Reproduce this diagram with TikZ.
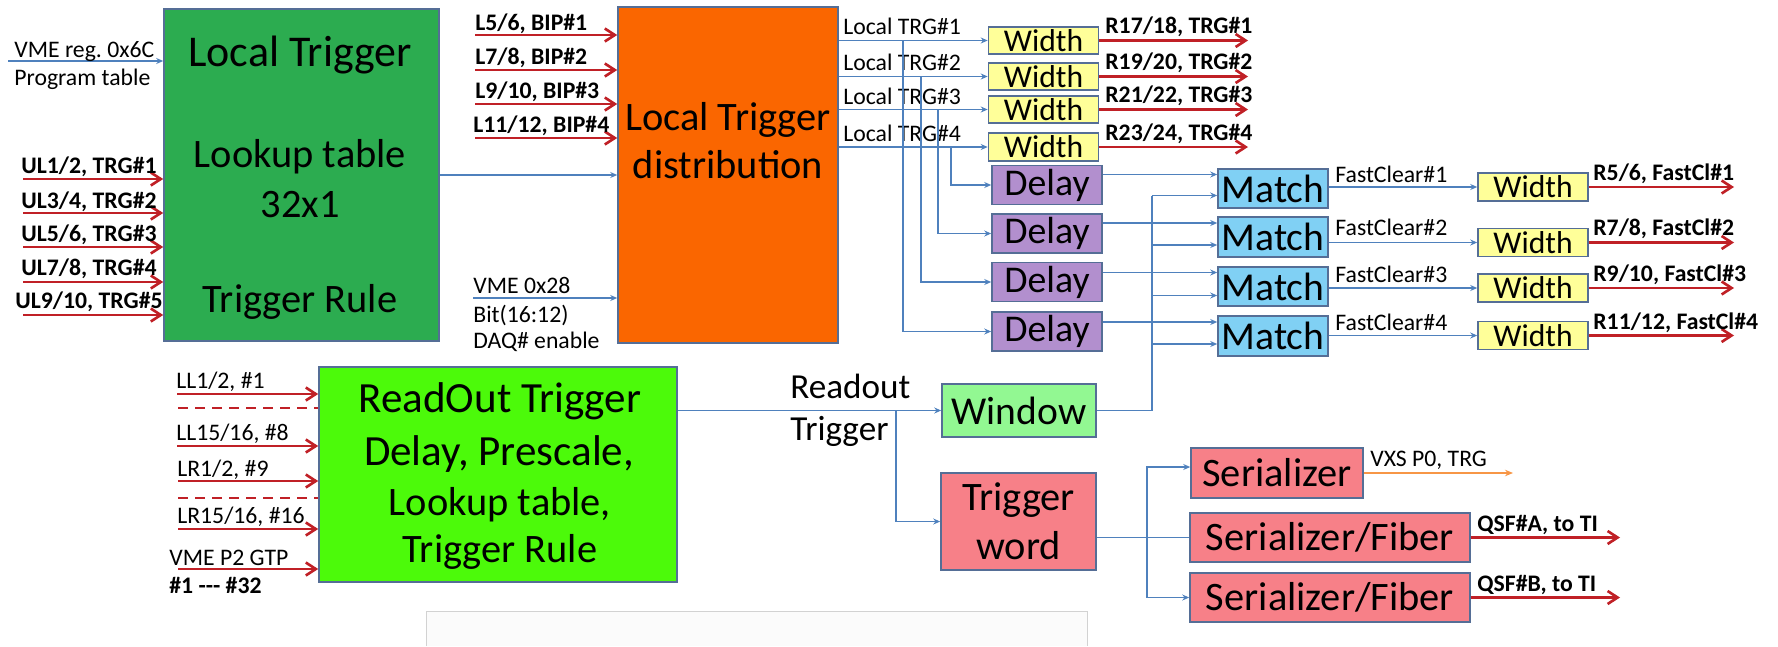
\documentclass[tikz,border=0pt]{standalone}
\usepackage{fontspec}
\setmainfont{Carlito}
\usetikzlibrary{arrows.meta, positioning, calc}
\definecolor{ltgreen}{RGB}{44,172,80}
\definecolor{ltorange}{RGB}{250,102,0}
\definecolor{rogreen}{RGB}{76,250,10}
\definecolor{wyellow}{RGB}{255,255,153}
\definecolor{dpurple}{RGB}{178,143,206}
\definecolor{mblue}{RGB}{128,208,244}
\definecolor{wgreen}{RGB}{146,248,146}
\definecolor{spink}{RGB}{247,128,136}
\definecolor{boxedge}{RGB}{85,110,150}
\definecolor{lineblue}{RGB}{79,129,189}
\definecolor{arrred}{RGB}{192,32,38}
\definecolor{arrorange}{RGB}{247,150,70}
\tikzset{box/.style={draw=boxedge, line width=0.9pt, inner sep=0pt}}
\tikzset{lbl/.style={font=\fontsize{13.5}{16}\selectfont, inner sep=0pt}}
\tikzset{blbl/.style={font=\fontsize{13.5}{16}\selectfont\bfseries, inner sep=0pt}}
\tikzset{bl/.style={draw=lineblue, line width=0.6pt}}
\tikzset{bla/.style={bl, -{Stealth[length=1.4mm, width=1.2mm]}}}
\tikzset{rdarr/.style={draw=arrred, line width=1.5pt, -{Straight Barb[length=2mm, width=2.6mm]}}}
\tikzset{rddash/.style={draw=arrred, line width=1.5pt, dash pattern=on 2mm off 1.4mm}}
\tikzset{orarr/.style={draw=arrorange, line width=0.8pt, -{Stealth[length=1.6mm, width=1.3mm]}}}
\tikzset{wbox/.style={box, fill=wyellow, minimum width=2.2cm, minimum height=0.55cm, font=\fontsize{18}{20}\selectfont}}
\tikzset{dbox/.style={box, fill=dpurple, minimum width=2.2cm, minimum height=0.78cm, font=\fontsize{21.5}{24}\selectfont}}
\tikzset{mbox/.style={box, fill=mblue, minimum width=2.2cm, minimum height=0.79cm, font=\fontsize{22.5}{25}\selectfont}}
\tikzset{sbox/.style={box, fill=spink, font=\fontsize{23}{27.9}\selectfont, align=center}}
\begin{document}
\begin{tikzpicture}[x=0.2mm, y=-0.2mm]
    \useasboundingbox (0,0) rectangle (1778,646);

    % Local Trigger block
    \node(lt)[box, fill=ltgreen, minimum width=5.5cm, minimum height=6.64cm] at (301.5,175){};
    \node(ltt1)[font=\fontsize{25}{30}\selectfont, anchor=base] at (300,66){Local Trigger};
    \node(ltt2)[font=\fontsize{23}{28}\selectfont, anchor=base] at (300,167){Lookup table};
    \node(ltt3)[font=\fontsize{23}{28}\selectfont, anchor=base] at (300,217){32x1};
    \node(ltt4)[font=\fontsize{23}{28}\selectfont, anchor=base] at (300,312){Trigger Rule};

    \coordinate(vmer) at (8,61);
    \draw[bla] (vmer) -- (vmer -| lt.west);
    \node(vmert)[lbl, anchor=base west] at (14,57){VME reg.\ 0x6C};
    \node(progt)[lbl, anchor=base west] at (14,85){Program table};

    % UL inputs
    \coordinate(ul1) at (23,179);
    \coordinate(ul2) at (23,213);
    \coordinate(ul3) at (23,247);
    \coordinate(ul4) at (23,282);
    \coordinate(ul5) at (23,315);
    \draw[rdarr] (ul1) -- (ul1 -| lt.west);
    \draw[rdarr] (ul2) -- (ul2 -| lt.west);
    \draw[rdarr] (ul3) -- (ul3 -| lt.west);
    \draw[rdarr] (ul4) -- (ul4 -| lt.west);
    \draw[rdarr] (ul5) -- (ul5 -| lt.west);
    \node(ul1t)[blbl, anchor=base] at (89,173){UL1/2, TRG\#1};
    \node(ul2t)[blbl, anchor=base] at (89,208){UL3/4, TRG\#2};
    \node(ul3t)[blbl, anchor=base] at (89,241){UL5/6, TRG\#3};
    \node(ul4t)[blbl, anchor=base] at (89,275){UL7/8, TRG\#4};
    \node(ul5t)[blbl, anchor=base] at (89,308){UL9/10, TRG\#5};

    % Local Trigger distribution
    \node(ltd)[box, fill=ltorange, minimum width=4.4cm, minimum height=6.72cm] at (728,175){};
    \node(ltdt1)[font=\fontsize{23}{28}\selectfont, anchor=base] at (728,130){Local Trigger};
    \node(ltdt2)[font=\fontsize{23}{28}\selectfont, anchor=base] at (728,178){distribution};
    \draw[bla] (lt) -- (ltd);

    % BIP inputs
    \coordinate(bip1) at (475,35);
    \coordinate(bip2) at (475,70);
    \coordinate(bip3) at (475,104);
    \coordinate(bip4) at (475,138);
    \draw[rdarr] (bip1) -- (bip1 -| ltd.west);
    \draw[rdarr] (bip2) -- (bip2 -| ltd.west);
    \draw[rdarr] (bip3) -- (bip3 -| ltd.west);
    \draw[rdarr] (bip4) -- (bip4 -| ltd.west);
    \node(bip1t)[blbl, anchor=base west] at (475,30){L5/6, BIP\#1};
    \node(bip2t)[blbl, anchor=base west] at (475,64){L7/8, BIP\#2};
    \node(bip3t)[blbl, anchor=base west] at (475,98){L9/10, BIP\#3};
    \node(bip4t)[blbl, anchor=base west] at (473,132){L11/12, BIP\#4};

    \coordinate(vme28) at (473,298);
    \draw[bla] (vme28) -- (vme28 -| ltd.west);
    \node(vme28t)[lbl, anchor=base west] at (473,293){VME 0x28};
    \node(bitt)[lbl, anchor=base west] at (473,322){Bit(16:12)};
    \node(daqt)[lbl, anchor=base west] at (473,348){DAQ\# enable};

    % Width boxes
    \node(wl1)[wbox] at (1043.5,40.5){Width};
    \node(wl2)[wbox] at (1043.5,76.5){Width};
    \node(wl3)[wbox] at (1043.5,109.5){Width};
    \node(wl4)[wbox] at (1043.5,147){Width};
    \draw[bla] (ltd.east |- wl1) -- (wl1);
    \draw[bla] (ltd.east |- wl2) -- (wl2);
    \draw[bla] (ltd.east |- wl3) -- (wl3);
    \draw[bla] (ltd.east |- wl4) -- (wl4);
    \node(trg1t)[lbl, anchor=base west] at (843,35){Local TRG\#1};
    \node(trg2t)[lbl, anchor=base west] at (843,70){Local TRG\#2};
    \node(trg3t)[lbl, anchor=base west] at (843,104){Local TRG\#3};
    \node(trg4t)[lbl, anchor=base west] at (843,141){Local TRG\#4};

    \coordinate(rend) at (1248,0);
    \draw[rdarr] (wl1) -- (wl1 -| rend);
    \draw[rdarr] (wl2) -- (wl2 -| rend);
    \draw[rdarr] (wl3) -- (wl3 -| rend);
    \draw[rdarr] (wl4) -- (wl4 -| rend);
    \node(r1t)[blbl, anchor=base west] at (1105,33.5){R17/18, TRG\#1};
    \node(r2t)[blbl, anchor=base west] at (1105,69.5){R19/20, TRG\#2};
    \node(r3t)[blbl, anchor=base west] at (1105,102.5){R21/22, TRG\#3};
    \node(r4t)[blbl, anchor=base west] at (1105,140){R23/24, TRG\#4};

    % Delay boxes
    \node(dl1)[dbox] at (1047,185){Delay};
    \node(dl2)[dbox] at (1047,233.5){Delay};
    \node(dl3)[dbox] at (1047,282){Delay};
    \node(dl4)[dbox] at (1047,331.5){Delay};
    \coordinate(v1) at (903,0);
    \coordinate(v2) at (921,0);
    \coordinate(v3) at (938,0);
    \coordinate(v4) at (951,0);
    \draw[bla] (v1 |- wl1) |- (dl4);
    \draw[bla] (v2 |- wl2) |- (dl3);
    \draw[bla] (v3 |- wl3) |- (dl2);
    \draw[bla] (v4 |- wl4) |- (dl1);

    % Match boxes
    \node(mt1)[mbox] at (1273,188.5){Match};
    \node(mt2)[mbox] at (1273,237){Match};
    \node(mt3)[mbox] at (1273,286.5){Match};
    \node(mt4)[mbox] at (1273,336){Match};
    \coordinate(m1a) at ([yshift=2.8mm]mt1.west);
    \coordinate(m2a) at ([yshift=2.8mm]mt2.west);
    \coordinate(m3a) at ([yshift=2.8mm]mt3.west);
    \coordinate(m4a) at ([yshift=2.8mm]mt4.west);
    \coordinate(m1b) at ([yshift=-1.4mm]mt1.west);
    \coordinate(m2b) at ([yshift=-1.6mm]mt2.west);
    \coordinate(m3b) at ([yshift=-1.8mm]mt3.west);
    \coordinate(m4b) at ([yshift=-1.6mm]mt4.west);
    \draw[bla] (dl1.east |- m1a) -- (m1a);
    \draw[bla] (dl2.east |- m2a) -- (m2a);
    \draw[bla] (dl3.east |- m3a) -- (m3a);
    \draw[bla] (dl4.east |- m4a) -- (m4a);

    % Window
    \node(win)[box, fill=wgreen, minimum width=3.08cm, minimum height=1.06cm, font=\fontsize{22.5}{25}\selectfont] at (1019,410.5){Window};
    \coordinate(wv) at (1152,0);
    \draw[bl] (win) -- (win -| wv) -- (wv |- m1b);
    \draw[bla] (wv |- m1b) -- (m1b);
    \draw[bla] (wv |- m2b) -- (m2b);
    \draw[bla] (wv |- m3b) -- (m3b);
    \draw[bla] (wv |- m4b) -- (m4b);

    % FastClear widths
    \node(wr1)[wbox, minimum height=0.56cm] at (1533,187){Width};
    \node(wr2)[wbox, minimum height=0.56cm] at (1533,242.5){Width};
    \node(wr3)[wbox, minimum height=0.56cm] at (1533,288){Width};
    \node(wr4)[wbox, minimum height=0.56cm] at (1533,335.5){Width};
    \draw[bla] (mt1.east |- wr1) -- (wr1);
    \draw[bla] (mt2.east |- wr2) -- (wr2);
    \draw[bla] (mt3.east |- wr3) -- (wr3);
    \draw[bla] (mt4.east |- wr4) -- (wr4);
    \node(fc1t)[lbl, anchor=base west] at (1335,182){FastClear\#1};
    \node(fc2t)[lbl, anchor=base west] at (1335,235){FastClear\#2};
    \node(fc3t)[lbl, anchor=base west] at (1335,282){FastClear\#3};
    \node(fc4t)[lbl, anchor=base west] at (1335,330){FastClear\#4};
    \coordinate(fend) at (1734,0);
    \draw[rdarr] (wr1) -- (wr1 -| fend);
    \draw[rdarr] (wr2) -- (wr2 -| fend);
    \draw[rdarr] (wr3) -- (wr3 -| fend);
    \draw[rdarr] (wr4) -- (wr4 -| fend);
    \node(fr1t)[blbl, anchor=base west] at (1593,180){R5/6, FastCl\#1};
    \node(fr2t)[blbl, anchor=base west] at (1593,235){R7/8, FastCl\#2};
    \node(fr3t)[blbl, anchor=base west] at (1593,281){R9/10, FastCl\#3};
    \node(fr4t)[blbl, anchor=base west] at (1593,329){R11/12, FastCl\#4};

    % ReadOut Trigger block
    \node(ro)[box, fill=rogreen, minimum width=7.16cm, minimum height=4.3cm] at (498,474.5){};
    \node(rot1)[font=\fontsize{24.5}{28}\selectfont, anchor=base] at (500,412){ReadOut Trigger};
    \node(rot2)[font=\fontsize{24.5}{28}\selectfont, anchor=base] at (499,465){Delay, Prescale,};
    \node(rot3)[font=\fontsize{23}{28}\selectfont, anchor=base] at (500,515){Lookup table,};
    \node(rot4)[font=\fontsize{23}{28}\selectfont, anchor=base] at (500,562){Trigger Rule};

    % LL/LR inputs
    \coordinate(ll1) at (177,394);
    \coordinate(ll8) at (177,446);
    \coordinate(lr9) at (178,481);
    \coordinate(lr16) at (178,529);
    \coordinate(gtp) at (178,569);
    \coordinate(dsh1) at (178,408);
    \coordinate(dsh2) at (178,498);
    \draw[rdarr] (ll1) -- (ll1 -| ro.west);
    \draw[rddash] (dsh1) -- (dsh1 -| ro.west);
    \draw[rdarr] (ll8) -- (ll8 -| ro.west);
    \draw[rdarr] (lr9) -- (lr9 -| ro.west);
    \draw[rddash] (dsh2) -- (dsh2 -| ro.west);
    \draw[rdarr] (lr16) -- (lr16 -| ro.west);
    \draw[rdarr] (gtp) -- (gtp -| ro.west);
    \node(ll1t)[lbl, anchor=base west] at (176,388){LL1/2, \#1};
    \node(ll8t)[lbl, anchor=base west] at (176,440){LL15/16, \#8};
    \node(lr9t)[lbl, anchor=base west] at (177,476){LR1/2, \#9};
    \node(lr16t)[lbl, anchor=base west] at (177,523){LR15/16, \#16};
    \node(gtpt)[lbl, anchor=base west] at (169,565){VME P2 GTP};
    \node(gtpn)[blbl, anchor=base west] at (169,593){\#1 -{}-{}- \#32};

    % Readout Trigger path
    \draw[bla] (ro.east |- win) -- (win);
    \node(rdt1)[font=\fontsize{20}{24}\selectfont, anchor=base west, inner sep=0pt] at (790,398){Readout};
    \node(rdt2)[font=\fontsize{20}{24}\selectfont, anchor=base west, inner sep=0pt] at (790,440){Trigger};
    \node(tw)[sbox, minimum width=3.1cm, minimum height=1.94cm] at (1018.5,521.5){Trigger\\word};
    \coordinate(rtb) at (896,0);
    \draw[bla] (rtb |- win) |- (tw);

    % Serializers
    \node(ser)[sbox, minimum width=3.44cm, minimum height=1.0cm] at (1277,473){Serializer};
    \node(sf1)[sbox, minimum width=5.6cm, minimum height=0.98cm] at (1330,537.5){Serializer/Fiber};
    \node(sf2)[sbox, minimum width=5.6cm, minimum height=0.98cm] at (1330,597.5){Serializer/Fiber};
    \coordinate(sin) at ([yshift=1.2mm]ser.west);
    \coordinate(sv) at (1147,0);
    \draw[bl] (tw.east |- sf1) -- (sf1);
    \draw[bla] (sv |- sf1) |- (sin);
    \draw[bla] (sv |- sf1) |- (sf2);

    \coordinate(vxs) at (1513,0);
    \coordinate(qend) at (1620,0);
    \draw[orarr] (ser) -- (ser -| vxs);
    \draw[rdarr] (sf1) -- (sf1 -| qend);
    \draw[rdarr] (sf2) -- (sf2 -| qend);
    \node(vxst)[lbl, anchor=base west] at (1370,466){VXS P0, TRG};
    \node(qat)[blbl, anchor=base west] at (1477,531){QSF\#A, to TI};
    \node(qbt)[blbl, anchor=base west] at (1477,591){QSF\#B, to TI};

    % grey panel at the bottom
    \draw[draw=gray!35, fill=gray!3] (426,646) |- (1087,611) -- (1087,646);

\end{tikzpicture}
\end{document}
